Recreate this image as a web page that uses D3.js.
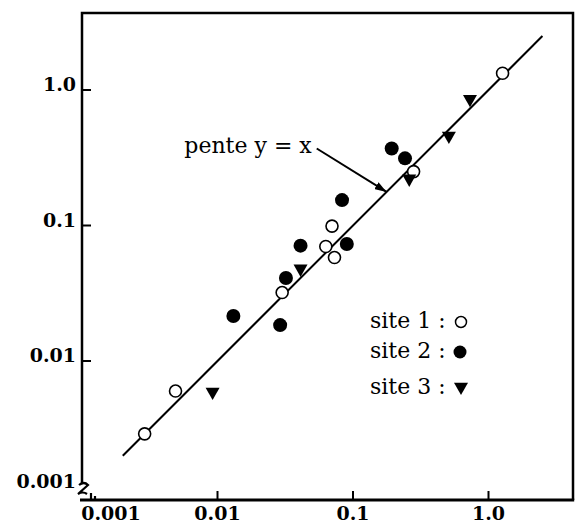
<!DOCTYPE html>
<html>
<head>
<meta charset="utf-8">
<script src="https://cdn.jsdelivr.net/npm/d3@7"></script>
<style>
  html, body { margin: 0; padding: 0; background: #fff; }
  svg { display: block; }
</style>
</head>
<body>
<div class="plot-container"></div>
<script>
// values (x, y)
const site1 = [
  [0.0029, 0.0029], [0.0049, 0.0060], [0.030, 0.032], [0.063, 0.070],
  [0.073, 0.058], [0.070, 0.099], [0.28, 0.25], [1.27, 1.33]
];
const site2 = [
  [0.0131, 0.0215], [0.029, 0.0184], [0.032, 0.041], [0.041, 0.071],
  [0.083, 0.154], [0.090, 0.073], [0.193, 0.37], [0.242, 0.313]
];
const site3 = [
  [0.0092, 0.0058], [0.041, 0.047], [0.26, 0.217], [0.51, 0.45], [0.73, 0.84]
];
const tickValues = [0.001, 0.01, 0.1, 1];
const tickLabels = ["0.001", "0.01", "0.1", "1.0"];
const legendLabels = ["site 1 :", "site 2 :", "site 3 :"];
const slopeLine = [0.002, 2.5];
const annotation = { text: "pente y = x", from: [0.054, 0.37], to: [0.177, 0.177] };

const width = 578, height = 525;
const LEFT = 82, RIGHT = 573, TOP = 13, BOTTOM = 500;
const LABEL_FONT = "'DejaVu Serif', serif";

const svg = d3.select("div.plot-container").append("svg")
  .attr("width", width).attr("height", height);

// decade is about 135.5px on both axes
const x = d3.scaleLog().domain([0.001, Math.pow(10, (RIGHT - LEFT) / 135.5 - 3)]).range([LEFT, RIGHT]);
const y = d3.scaleLog().domain([0.001, Math.pow(10, (90 - TOP) / 135.5)]).range([496.5, TOP]);

const defs = svg.append("defs");
defs.append("marker")
  .attr("id", "arrow")
  .attr("viewBox", "0 0 12 8")
  .attr("refX", 12).attr("refY", 4)
  .attr("markerWidth", 12).attr("markerHeight", 8)
  .attr("markerUnits", "userSpaceOnUse")
  .attr("orient", "auto")
  .append("path").attr("d", "M0,0 L12,4 L0,8 Z").attr("fill", "#000");

// frame (left spine stops above the break)
const frame = svg.append("g").attr("stroke", "#000").attr("fill", "none");
frame.append("path")
  .attr("d", `M${LEFT},${BOTTOM - 17} L${LEFT},${TOP} L${RIGHT},${TOP} L${RIGHT},${BOTTOM}`)
  .attr("stroke-width", 2.5);
frame.append("line")
  .attr("x1", LEFT - 2).attr("x2", RIGHT + 1.2).attr("y1", BOTTOM).attr("y2", BOTTOM)
  .attr("stroke-width", 3.2);

// axis break in the corner
frame.append("path")
  .attr("d", `M${LEFT - 3},${BOTTOM - 15} q5,-4 9,0 l-10,9 q5,-3 9,0 M${LEFT + 9},${BOTTOM} l0,-7 M${LEFT + 13},${BOTTOM} l0,-4`)
  .attr("stroke-width", 2.2);

// x ticks
const xAxis = svg.append("g").attr("class", "x-axis");
xAxis.selectAll("line")
  .data(tickValues.slice(1))
  .enter().append("line")
  .attr("x1", d => x(d)).attr("x2", d => x(d))
  .attr("y1", BOTTOM).attr("y2", BOTTOM - 9)
  .attr("stroke", "#000").attr("stroke-width", 2);
xAxis.selectAll("text")
  .data(tickValues)
  .enter().append("text")
  .attr("x", (d, i) => x(d) + (i === 0 ? 29 : 0))
  .attr("y", 520)
  .attr("text-anchor", "middle")
  .style("font-family", LABEL_FONT)
  .style("font-weight", "bold")
  .style("font-size", "19px")
  .text((d, i) => tickLabels[i]);

// y ticks
const yAxis = svg.append("g").attr("class", "y-axis");
yAxis.selectAll("line")
  .data(tickValues.slice(1))
  .enter().append("line")
  .attr("x1", LEFT).attr("x2", LEFT + 9)
  .attr("y1", d => y(d)).attr("y2", d => y(d))
  .attr("stroke", "#000").attr("stroke-width", 2);
yAxis.selectAll("text")
  .data(tickValues)
  .enter().append("text")
  .attr("x", 76)
  .attr("y", (d, i) => y(d) + (i === 0 ? -9 : 1))
  .attr("text-anchor", "end")
  .style("font-family", LABEL_FONT)
  .style("font-weight", "bold")
  .style("font-size", "19px")
  .text((d, i) => tickLabels[i]);

// slope 1 line
svg.append("line")
  .attr("x1", x(slopeLine[0])).attr("y1", y(slopeLine[0]))
  .attr("x2", x(slopeLine[1])).attr("y2", y(slopeLine[1]))
  .attr("stroke", "#000").attr("stroke-width", 2);

// annotation
svg.append("line")
  .attr("x1", x(annotation.from[0])).attr("y1", y(annotation.from[1]))
  .attr("x2", x(annotation.to[0])).attr("y2", y(annotation.to[1]))
  .attr("stroke", "#000").attr("stroke-width", 2)
  .attr("marker-end", "url(#arrow)");
svg.append("text")
  .attr("x", x(annotation.from[0]) - 5)
  .attr("y", y(annotation.from[1]) + 4)
  .attr("text-anchor", "end")
  .style("font-family", LABEL_FONT)
  .style("font-size", "22px")
  .text(annotation.text);

// markers
const trianglePath = (cx, cy, w) =>
  `M${cx - w / 2},${cy - w * 0.38} L${cx + w / 2},${cy - w * 0.38} L${cx},${cy + w * 0.5} Z`;

const points = svg.append("g").attr("class", "points");
points.selectAll("circle.site1")
  .data(site1)
  .enter().append("circle")
  .attr("class", "site1")
  .attr("cx", d => x(d[0])).attr("cy", d => y(d[1]))
  .attr("r", 6)
  .attr("fill", "#fff").attr("stroke", "#000").attr("stroke-width", 1.6);
points.selectAll("circle.site2")
  .data(site2)
  .enter().append("circle")
  .attr("class", "site2")
  .attr("cx", d => x(d[0])).attr("cy", d => y(d[1]))
  .attr("r", 7)
  .attr("fill", "#000");
points.selectAll("path.site3")
  .data(site3)
  .enter().append("path")
  .attr("class", "site3")
  .attr("d", d => trianglePath(x(d[0]), y(d[1]), 14))
  .attr("fill", "#000");

// legend
const legend = svg.append("g").attr("transform", "translate(370,0)");
const rowY = [322, 352, 388];
legend.selectAll("text")
  .data(legendLabels)
  .enter().append("text")
  .attr("x", 0)
  .attr("y", (d, i) => rowY[i] + 6)
  .style("font-family", LABEL_FONT)
  .style("font-size", "22px")
  .text(d => d);
legend.append("circle")
  .attr("cx", 91).attr("cy", rowY[0]).attr("r", 5.5)
  .attr("fill", "none").attr("stroke", "#000").attr("stroke-width", 1.5);
legend.append("circle")
  .attr("cx", 90).attr("cy", rowY[1]).attr("r", 6.5)
  .attr("fill", "#000");
legend.append("path")
  .attr("d", trianglePath(91, rowY[2], 14))
  .attr("fill", "#000");
</script>
</body>
</html>
